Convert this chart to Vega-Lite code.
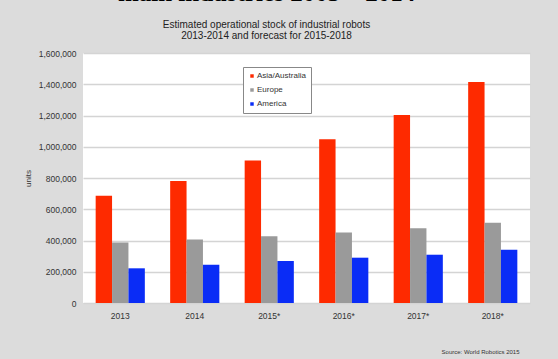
{
  "$schema": "https://vega.github.io/schema/vega-lite/v6.json",
  "autosize": "none",
  "width": 447,
  "height": 250,
  "padding": {"left": 83, "top": 53, "right": 28, "bottom": 56},
  "background": "#dcdcdc",
  "config": {
    "view": {"fill": "white", "stroke": null},
    "font": "Liberation Sans"
  },
  "title": {
    "text": "main industries 2005 – 2014",
    "font": "Liberation Serif",
    "fontSize": 25,
    "fontWeight": "bold",
    "color": "#000000",
    "subtitle": ["Estimated operational stock of industrial robots", "2013-2014 and forecast for 2015-2018"],
    "subtitleFont": "Liberation Sans",
    "subtitleFontSize": 10,
    "subtitleColor": "#222222",
    "subtitleLineHeight": 11,
    "subtitlePadding": 14,
    "anchor": "middle",
    "dx": -40,
    "offset": 8
  },
  "data": {
    "values": [
      {"year": "2013", "region": "Asia/Australia", "units": 686000},
      {"year": "2013", "region": "Europe", "units": 387000},
      {"year": "2013", "region": "America", "units": 222000},
      {"year": "2014", "region": "Asia/Australia", "units": 781000},
      {"year": "2014", "region": "Europe", "units": 406000},
      {"year": "2014", "region": "America", "units": 245000},
      {"year": "2015*", "region": "Asia/Australia", "units": 912000},
      {"year": "2015*", "region": "Europe", "units": 428000},
      {"year": "2015*", "region": "America", "units": 269000},
      {"year": "2016*", "region": "Asia/Australia", "units": 1048000},
      {"year": "2016*", "region": "Europe", "units": 451000},
      {"year": "2016*", "region": "America", "units": 290000},
      {"year": "2017*", "region": "Asia/Australia", "units": 1204000},
      {"year": "2017*", "region": "Europe", "units": 478000},
      {"year": "2017*", "region": "America", "units": 309000},
      {"year": "2018*", "region": "Asia/Australia", "units": 1414000},
      {"year": "2018*", "region": "Europe", "units": 514000},
      {"year": "2018*", "region": "America", "units": 341000}
    ]
  },
  "mark": {"type": "bar"},
  "encoding": {
    "x": {
      "field": "year",
      "type": "nominal",
      "sort": null,
      "scale": {"paddingInner": 0.34, "paddingOuter": 0.17},
      "axis": {
        "labelAngle": 0,
        "labelFontSize": 8.5,
        "labelColor": "#333333",
        "labelPadding": 8,
        "ticks": false,
        "domain": false,
        "title": "Source: World Robotics 2015",
        "titleFontSize": 6,
        "titleFontWeight": "normal",
        "titleColor": "#333333",
        "titleAnchor": "end",
        "titleAlign": "right",
        "titleX": 436,
        "titlePadding": 29
      }
    },
    "xOffset": {
      "field": "region",
      "type": "nominal",
      "sort": ["Asia/Australia", "Europe", "America"]
    },
    "y": {
      "field": "units",
      "type": "quantitative",
      "scale": {"domain": [0, 1600000]},
      "axis": {
        "values": [0, 200000, 400000, 600000, 800000, 1000000, 1200000, 1400000, 1600000],
        "format": ",d",
        "labelFontSize": 8.5,
        "labelColor": "#333333",
        "labelPadding": 7,
        "ticks": false,
        "domain": false,
        "gridColor": "#d4d4d4",
        "gridWidth": 1.5,
        "title": "units",
        "titleFontSize": 8,
        "titleFontWeight": "normal",
        "titleColor": "#333333",
        "titlePadding": 6
      }
    },
    "color": {
      "field": "region",
      "type": "nominal",
      "sort": ["Asia/Australia", "Europe", "America"],
      "scale": {"domain": ["Asia/Australia", "Europe", "America"], "range": ["#fe2a00", "#9a9a9a", "#0a2cf6"]},
      "legend": {
        "orient": "none",
        "legendX": 160,
        "legendY": 14,
        "title": null,
        "fillColor": "white",
        "strokeColor": "#888888",
        "padding": 5,
        "symbolType": "square",
        "symbolSize": 12,
        "labelFontSize": 8,
        "labelColor": "#333333",
        "labelOffset": 1,
        "rowPadding": 6
      }
    }
  }
}
